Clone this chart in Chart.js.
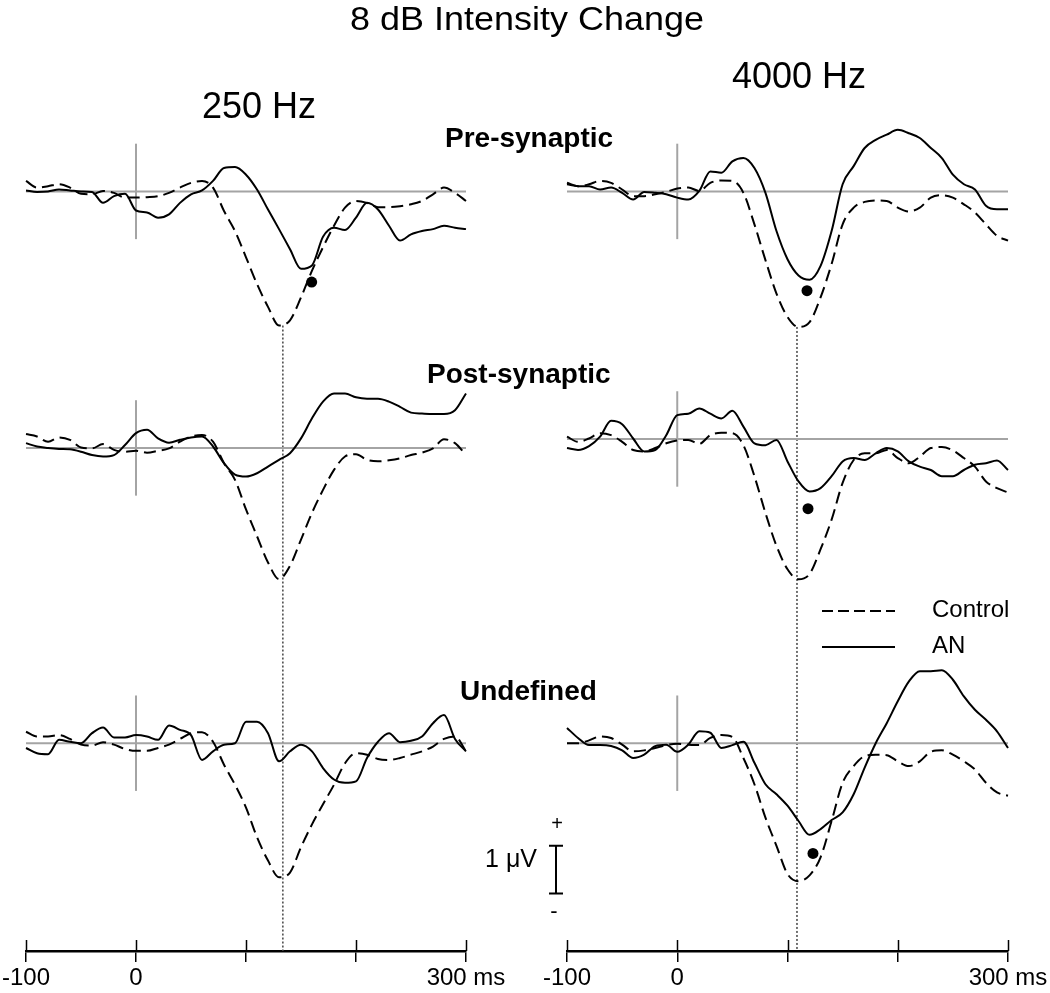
<!DOCTYPE html>
<html>
<head>
<meta charset="utf-8">
<title>8 dB Intensity Change</title>
<script src="https://cdn.jsdelivr.net/npm/chart.js@4.4.0/dist/chart.umd.min.js"></script>
<style>
    body { margin: 0; background: #fff; }
    #wrap { position: relative; width: 1050px; height: 993px; }
    #wrap canvas { position: absolute; top: 0; }
    #left { left: 0; }
    #right { left: 525px; }
    #labels { position: absolute; left: 0; top: 0; pointer-events: none; }
</style>
</head>
<body>
<div id="wrap">
    <canvas id="left" width="525" height="993"></canvas>
    <canvas id="right" width="525" height="993"></canvas>
    <svg id="labels" width="1050" height="993" font-family="'Liberation Sans', Arial, sans-serif" fill="#000">
        <text transform="translate(527,30) scale(1.09,1)" font-size="33" text-anchor="middle">8 dB Intensity Change</text>
        <text x="202" y="118" font-size="36">250 Hz</text>
        <text x="732" y="88" font-size="36">4000 Hz</text>
        <text x="445" y="147" font-size="28" font-weight="bold">Pre-synaptic</text>
        <text x="427" y="383" font-size="28" font-weight="bold">Post-synaptic</text>
        <text x="460" y="700" font-size="28" font-weight="bold">Undefined</text>
        <line x1="822" y1="611" x2="895" y2="611" stroke="#000" stroke-width="2" stroke-dasharray="11 5"/>
        <line x1="822" y1="647" x2="895" y2="647" stroke="#000" stroke-width="2"/>
        <text x="932" y="617" font-size="24">Control</text>
        <text x="932" y="653" font-size="24">AN</text>
        <text x="557" y="830" font-size="20" text-anchor="middle">+</text>
        <text x="537" y="867" font-size="25" text-anchor="end">1 μV</text>
        <text x="554" y="918" font-size="22" text-anchor="middle">-</text>
    </svg>
</div>
<script>
// time points (ms)
const times = [-100, -90, -80, -70, -60, -50, -40, -30, -20, -10,
    0, 10, 20, 30, 40, 50, 60, 70, 80, 90,
    100, 110, 120, 130, 140, 150, 160, 170, 180, 190,
    200, 210, 220, 230, 240, 250, 260, 270, 280, 290, 300];

const tickValues = [-100, 0, 100, 200, 300];
const tickLabels = ['-100', '0', '', '', '300 ms'];

// 250 Hz, amplitudes in uV
const ctl250Pre = [0.22, 0.08, 0.11, 0.15, 0.08, -0.05, -0.06, 0.01, -0.03, -0.13,
    -0.13, -0.12, -0.1, -0.03, 0.08, 0.18, 0.22, 0.08, -0.41, -0.83,
    -1.38, -1.94, -2.42, -2.81, -2.7, -2.22, -1.66, -1.17, -0.72, -0.34,
    -0.2, -0.24, -0.33, -0.33, -0.31, -0.27, -0.2, -0.06, 0.08, -0.03, -0.2];
const an250Pre = [0.02, -0.01, 0.0, 0.04, 0.02, 0.0, -0.01, -0.24, -0.1, -0.05,
    -0.4, -0.44, -0.55, -0.48, -0.24, -0.06, 0.02, 0.22, 0.49, 0.51,
    0.35, 0.04, -0.38, -0.79, -1.21, -1.62, -1.55, -0.95, -0.76, -0.81,
    -0.55, -0.24, -0.38, -0.72, -1.03, -0.9, -0.83, -0.79, -0.72, -0.76, -0.79];

const ctl250Post = [0.29, 0.24, 0.13, 0.22, 0.17, 0.01, -0.01, 0.08, -0.04, -0.08,
    -0.06, -0.1, -0.06, -0.01, 0.13, 0.24, 0.27, 0.13, -0.32, -0.67,
    -1.29, -1.85, -2.4, -2.75, -2.47, -1.92, -1.36, -0.88, -0.46, -0.18,
    -0.13, -0.25, -0.28, -0.26, -0.22, -0.15, -0.1, -0.01, 0.18, 0.1, -0.15];
const an250Post = [0.1, 0.03, 0.0, -0.02, -0.03, -0.08, -0.15, -0.18, -0.15, 0.06,
    0.31, 0.38, 0.2, 0.11, 0.17, 0.22, 0.24, 0.03, -0.32, -0.56,
    -0.6, -0.53, -0.39, -0.25, -0.11, 0.2, 0.62, 0.97, 1.14, 1.14,
    1.06, 1.03, 1.03, 0.97, 0.86, 0.74, 0.72, 0.71, 0.71, 0.79, 1.14];

const ctl250Und = [0.24, 0.14, 0.14, 0.17, 0.09, -0.03, -0.05, 0.02, -0.03, -0.12,
    -0.16, -0.16, -0.1, -0.03, 0.09, 0.21, 0.23, 0.03, -0.45, -0.87,
    -1.35, -1.97, -2.46, -2.81, -2.71, -2.18, -1.7, -1.28, -0.87, -0.42,
    -0.21, -0.24, -0.33, -0.35, -0.31, -0.24, -0.17, -0.07, 0.09, 0.14, -0.17];
const an250Und = [-0.1, -0.21, -0.23, 0.07, 0.03, 0.0, 0.21, 0.33, 0.12, 0.12,
    0.17, 0.14, 0.07, 0.37, 0.28, 0.17, -0.35, -0.17, -0.03, 0.0,
    0.45, 0.45, 0.21, -0.38, -0.17, -0.03, -0.17, -0.52, -0.76, -0.83,
    -0.8, -0.31, 0.03, 0.21, 0.02, 0.05, 0.14, 0.42, 0.59, 0.09, -0.17];

// 4000 Hz
const ctl4000Pre = [0.15, 0.11, 0.15, 0.22, 0.18, 0.04, -0.1, -0.1, -0.06, -0.01,
    0.06, 0.08, 0.01, 0.18, 0.23, 0.22, -0.03, -0.69, -1.44, -2.14,
    -2.63, -2.84, -2.74, -2.22, -1.52, -0.69, -0.34, -0.22, -0.19, -0.2,
    -0.34, -0.42, -0.34, -0.13, -0.08, -0.13, -0.27, -0.44, -0.69, -0.93, -1.03];
const an4000Pre = [0.18, 0.11, 0.11, 0.04, 0.08, -0.03, -0.17, -0.01, -0.03, -0.06,
    -0.13, -0.17, 0.01, 0.42, 0.39, 0.63, 0.7, 0.49, -0.03, -0.83,
    -1.42, -1.76, -1.85, -1.56, -0.83, 0.15, 0.53, 0.91, 1.08, 1.19,
    1.29, 1.22, 1.12, 0.91, 0.7, 0.35, 0.15, 0.04, -0.3, -0.375, -0.375];

const ctl4000Post = [0.05, -0.06, 0.01, 0.12, 0.08, -0.06, -0.23, -0.26, -0.19, -0.09,
    -0.03, -0.02, -0.1, 0.08, 0.13, 0.12, -0.13, -0.78, -1.55, -2.24,
    -2.73, -2.94, -2.83, -2.31, -1.69, -0.92, -0.44, -0.3, -0.3, -0.23,
    -0.4, -0.51, -0.37, -0.19, -0.17, -0.24, -0.4, -0.58, -0.89, -1.03, -1.12];
const an4000Post = [-0.19, -0.23, -0.15, 0.05, 0.38, 0.31, 0.01, -0.26, -0.23, 0.08,
    0.5, 0.53, 0.64, 0.53, 0.43, 0.59, 0.26, -0.09, -0.13, -0.02,
    -0.47, -0.89, -1.1, -1.03, -0.78, -0.47, -0.4, -0.44, -0.3, -0.19,
    -0.26, -0.47, -0.58, -0.65, -0.78, -0.78, -0.65, -0.54, -0.51, -0.45, -0.65];

const ctl4000Und = [0.0, 0.0, 0.06, 0.14, 0.11, -0.03, -0.17, -0.15, -0.1, -0.04,
    -0.01, -0.03, -0.04, 0.11, 0.17, 0.13, -0.31, -0.86, -1.56, -2.15,
    -2.74, -2.89, -2.77, -2.39, -1.63, -0.83, -0.48, -0.27, -0.24, -0.25,
    -0.38, -0.48, -0.38, -0.18, -0.15, -0.24, -0.38, -0.55, -0.83, -1.03, -1.1];
const an4000Und = [0.32, 0.11, -0.04, -0.04, -0.06, -0.15, -0.31, -0.24, -0.06, -0.03,
    -0.18, -0.03, 0.25, 0.22, -0.1, -0.04, 0.03, -0.41, -0.86, -1.07,
    -1.31, -1.63, -1.92, -1.8, -1.61, -1.45, -1.07, -0.51, 0.0, 0.42,
    0.88, 1.29, 1.51, 1.51, 1.53, 1.33, 0.98, 0.7, 0.49, 0.25, -0.1];

// AN peak markers [latency ms, amplitude uV], null = none
const peak250 = [[159.7, -1.9], null, null];
const peak4000 = [[117.7, -2.08], [118.6, -1.46], [123.1, -2.31]];

// control peak latency (dotted line)
const ctlPeakLatency = [133.5, 108.6];

const FONT = "'Liberation Sans', Arial, sans-serif";
const PX_PER_UV = 48;
const AXIS_Y = 951;
const GRAY = '#a4a4a4';

function pts(arr) {
    return times.map((t, i) => ({ x: t, y: arr[i] }));
}

function buildColumn(canvasId, opts) {
    const datasets = [];
    const scales = {
        x: {
            type: 'linear', min: times[0], max: times[times.length - 1], position: 'bottom',
            afterFit: (s) => { s.height = 993 - AXIS_Y; },
            afterBuildTicks: (s) => { s.ticks = tickValues.map(v => ({ value: v })); },
            ticks: {
                autoSkip: false, maxRotation: 0, padding: 2, color: '#000',
                font: { family: FONT, size: 24 },
                callback: (v) => { const i = tickValues.indexOf(v); return i >= 0 ? tickLabels[i] : ''; }
            },
            grid: { drawOnChartArea: false, color: '#000', lineWidth: 1.5, tickLength: 11 },
            border: { color: '#000', width: 2.5 }
        }
    };

    opts.rows.forEach((row, r) => {
        const yId = 'y' + r;
        scales[yId] = {
            type: 'linear', display: false,
            max: row.base / PX_PER_UV,
            min: (row.base - AXIS_Y) / PX_PER_UV
        };
        const lineBase = { yAxisID: yId, showLine: true, pointRadius: 0, fill: false, clip: false };
        datasets.push({ ...lineBase, data: [{ x: times[0], y: 0 }, { x: times[times.length - 1], y: 0 }],
            borderColor: GRAY, borderWidth: 2, order: 5 });
        datasets.push({ ...lineBase, data: [{ x: 0, y: -1 }, { x: 0, y: 1 }],
            borderColor: GRAY, borderWidth: 2, order: 5 });
        datasets.push({ ...lineBase, label: 'Control', data: pts(row.ctl), borderColor: '#000',
            borderWidth: 2, borderDash: [12, 6], cubicInterpolationMode: 'monotone', order: 2 });
        datasets.push({ ...lineBase, label: 'AN', data: pts(row.an), borderColor: '#000',
            borderWidth: 2, cubicInterpolationMode: 'monotone', order: 1 });
        if (row.peak) {
            datasets.push({ yAxisID: yId, data: [{ x: row.peak[0], y: row.peak[1] }], showLine: false,
                pointRadius: 5.5, pointHoverRadius: 5.5, backgroundColor: '#000', borderWidth: 0, order: 0 });
        }
    });

    const decor = {
        id: 'decor',
        beforeDatasetsDraw(chart) {
            const ctx = chart.ctx;
            const xs = chart.scales.x;
            const px = xs.getPixelForValue(opts.latency);
            const top = chart.scales.y0.getPixelForValue(Math.min(...opts.rows[0].ctl));
            ctx.save();
            ctx.strokeStyle = '#444';
            ctx.lineWidth = 1.5;
            ctx.setLineDash([2, 2]);
            ctx.beginPath();
            ctx.moveTo(px, top);
            ctx.lineTo(px, chart.chartArea.bottom);
            ctx.stroke();
            ctx.restore();
        },
        afterDraw(chart) {
            const ctx = chart.ctx;
            const xs = chart.scales.x;
            const b = chart.chartArea.bottom;
            ctx.save();
            ctx.strokeStyle = '#000';
            ctx.lineWidth = 1.5;
            ctx.beginPath();
            tickValues.forEach(v => {
                const px = Math.round(xs.getPixelForValue(v)) + 0.5;
                ctx.moveTo(px, b - 11);
                ctx.lineTo(px, b);
            });
            ctx.stroke();
            if (opts.scaleBar) {
                // 1 uV calibration bar drawn on the bottom row scale
                const ys = chart.scales.y2;
                const bx = 556 - 525;
                const y1 = ys.getPixelForValue(-2.15);
                const y2 = ys.getPixelForValue(-3.15);
                ctx.lineWidth = 2;
                ctx.beginPath();
                ctx.moveTo(bx, y1); ctx.lineTo(bx, y2);
                ctx.moveTo(bx - 7, y1); ctx.lineTo(bx + 7, y1);
                ctx.moveTo(bx - 7, y2); ctx.lineTo(bx + 7, y2);
                ctx.stroke();
            }
            ctx.restore();
        }
    };

    return new Chart(document.getElementById(canvasId), {
        type: 'scatter',
        data: { datasets },
        options: {
            responsive: false,
            animation: false,
            devicePixelRatio: 1,
            layout: { padding: { left: opts.padLeft, right: opts.padRight, top: 0, bottom: 0 } },
            plugins: { legend: { display: false }, tooltip: { enabled: false }, title: { display: false } },
            scales
        },
        plugins: [decor]
    });
}

buildColumn('left', {
    padLeft: 24, padRight: 525 - 466, latency: ctlPeakLatency[0], scaleBar: false,
    rows: [
        { ctl: ctl250Pre, an: an250Pre, base: 187, peak: peak250[0] },
        { ctl: ctl250Post, an: an250Post, base: 445, peak: peak250[1] },
        { ctl: ctl250Und, an: an250Und, base: 742, peak: peak250[2] }
    ]
});

buildColumn('right', {
    padLeft: 567 - 525, padRight: 1050 - 1008, latency: ctlPeakLatency[1], scaleBar: true,
    rows: [
        { ctl: ctl4000Pre, an: an4000Pre, base: 187, peak: peak4000[0] },
        { ctl: ctl4000Post, an: an4000Post, base: 436, peak: peak4000[1] },
        { ctl: ctl4000Und, an: an4000Und, base: 742, peak: peak4000[2] }
    ]
});
</script>
</body>
</html>
